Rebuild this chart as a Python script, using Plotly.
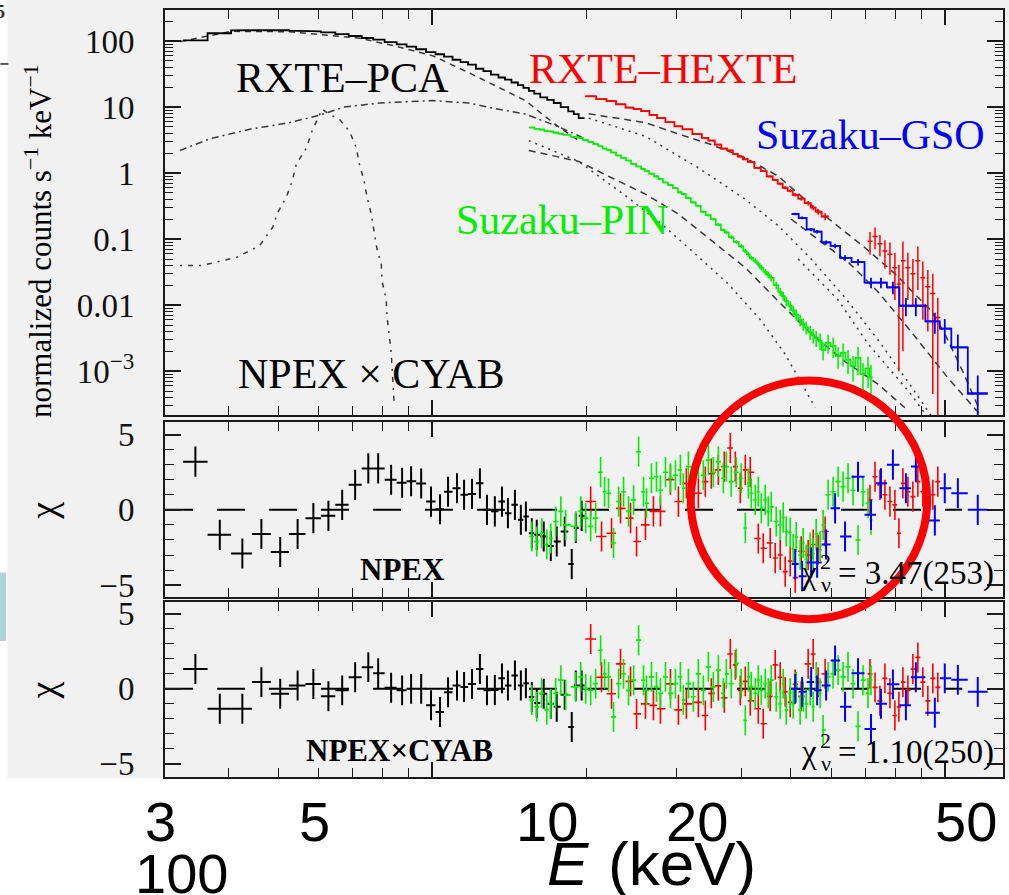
import numpy as np
import plotly.graph_objects as go

# ======================= DATA =======================
# RXTE-PCA (black)
pca_E = [3.45, 3.85, 4.26, 4.64, 5.05, 5.46, 5.86, 6.27, 6.67, 7.07, 7.50, 7.84, 8.31,
         8.73, 9.09, 9.51, 9.94, 10.35, 10.73, 11.17, 11.53, 11.95, 12.38, 12.78, 13.24,
         13.67, 14.04, 14.49, 14.88, 15.22, 15.63, 15.98, 16.49, 17.02, 17.48, 18.12,
         18.70, 19.04, 19.55]
pca_flux = [102, 131, 145, 147, 146, 143, 140, 135, 127, 119, 111, 105, 96, 89, 82, 75,
            68, 63, 58, 52, 48, 44, 38, 35, 31, 28, 26, 23.5, 21.5, 19.5, 17.5, 16, 14,
            12.8, 11.5, 10, 8.6, 7.8, 6.8]
pca_chi_npex = [3.2, -1.66, -2.9, -1.6, -2.8, -1.6, -0.55, -0.4, 0.33, 1.66,
                2.75, 2.75, 2.0, 1.8, 1.9, 1.75, 0.55, 0.04, 1.2, 1.43,
                1.0, 1.06, 1.76, 0.0, -0.1, 0.55, -0.22, 0.33, -0.66, -0.44,
                -1.55, -1.66, -1.77, -2.4, -2.1, -1.44, -3.6, -1.2, -0.4]
pca_chi_cyab = [1.33, -1.33, -1.33, 0.45, -0.33, 0.22, 0.33, -0.5, -0.1, 0.78,
                1.45, 1.05, 0.07, -0.1, 0.0, 0.0, -1.1, -1.55, -0.22, 0.22,
                0.13, 0.33, 1.33, -0.1, -0.07, 0.7, 0.22, 0.9, 0.22, 0.38,
                -0.55, -0.95, -0.33, -1.0, -1.2, -0.4, -2.55, 0.22, 0.22]

# RXTE-HEXTE (red), two energy segments
hexte1_E = [20.36, 21.38, 22.36, 23.28, 24.35, 25.02, 26.04, 26.99, 27.85, 29.13,
            30.19, 31.29, 33.02, 34.07, 35.00, 36.12, 37.10, 38.12, 38.98, 39.86,
            40.77, 41.69, 43.22, 44.19, 45.60, 46.63, 47.69, 48.77, 49.88, 51.01,
            52.40, 54.07, 55.30, 56.54, 58.35]
hexte1_flux = [14.5, 13.2, 12.3, 11.0, 9.8, 9.3, 8.7, 7.6, 6.8, 5.9,
               5.1, 4.6, 3.9, 3.4, 3.1, 2.7, 2.35, 2.2, 1.95, 1.78,
               1.62, 1.48, 1.2, 1.07, 0.89, 0.79, 0.69, 0.6, 0.54, 0.47,
               0.41, 0.35, 0.30, 0.26, 0.22]
hexte1_relerr = [0.01, 0.01, 0.01, 0.01, 0.01, 0.01, 0.01, 0.01, 0.012, 0.012,
                 0.012, 0.014, 0.014, 0.015, 0.016, 0.018, 0.02, 0.02, 0.022, 0.024,
                 0.025, 0.027, 0.03, 0.032, 0.035, 0.04, 0.045, 0.05, 0.055, 0.06,
                 0.07, 0.08, 0.09, 0.1, 0.12]
hexte1_chi_npex = [0.55, -1.77, -1.55, 0.1, -0.55, -2.1, -1.0, -0.1, -0.1, 2.0,
                   0.55, 1.76, 1.1, 1.87, 2.4, 2.65, 2.87, 4.1, 2.87, 1.43,
                   2.65, 2.5, -1.9, -2.55, -2.2, -3.2, -3.0, -4.1, -3.4, -4.5,
                   -2.75, -3.0, -2.3, -2.65, -1.44]
hexte1_chi_cyab = [3.33, 0.78, -0.33, 1.67, 0.5, -1.67, -1.0, -1.1, -1.33, 0.33,
                   -1.4, -1.0, -0.9, -1.78, -0.3, 0.2, -0.6, 2.33, 1.6, -0.1,
                   0.5, -0.8, -1.33, -2.33, -0.5, 1.6, 0.78, -0.2, -0.9, 0.3,
                   -0.5, 1.67, 2.33, 0.45, 1.0]
hexte2_E = [71.38, 73.0, 74.63, 76.32, 78.06, 79.82, 81.27, 82.74, 84.62, 86.53,
            88.49, 90.49, 92.54, 94.64, 96.78]
hexte2_flux = [0.093, 0.11, 0.085, 0.066, 0.059, 0.037, 0.021, 0.047, 0.037, 0.030,
               0.047, 0.026, 0.019, 0.015, 0.0065]
hexte2_err = [0.035, 0.04, 0.03, 0.03, 0.03, 0.025, 0.02, 0.045, 0.025, 0.02,
              0.03, 0.02, 0.015, 0.015, 0.0065]
hexte2_chi_npex = [0.66, 2.2, 1.66, 1.0, 0.55, 0.33, -1.55, 1.76, 1.2, 0.88,
                   1.87, 1.2, 0.33, 1.0, 1.87]
hexte2_chi_cyab = [1.0, 0.1, -0.8, 0.7, -0.3, -1.78, -1.2, 0.45, -0.1, 1.33,
                   2.1, 0.45, -0.8, 0.7, 0.1]

# Suzaku-PIN (green)
pin_E = [15.63, 15.98, 16.34, 16.72, 17.02, 17.40, 17.80, 18.20, 19.04, 19.47,
         19.91, 20.36, 20.82, 21.29, 21.67, 22.06, 22.56, 23.08, 23.60, 24.13,
         24.69, 25.25, 25.81, 26.16, 26.75, 27.36, 27.85, 28.49, 29.13, 29.79,
         30.46, 30.87, 31.58, 32.29, 33.02, 33.77, 34.54, 35.32, 36.12, 36.94,
         37.44, 38.28, 39.15, 40.04, 40.77, 41.33, 41.88, 42.64, 43.22, 43.80,
         44.59, 45.19, 45.80, 46.84, 47.69, 48.34, 48.99, 49.88, 50.55, 51.24,
         52.16, 52.87, 53.58, 54.56, 55.30, 56.05, 57.05, 57.83, 59.13, 60.47,
         61.85, 63.24, 64.67, 66.14, 67.64, 69.17, 70.74, 71.70]
pin_flux = [4.9, 4.7, 4.55, 4.35, 4.25, 4.1, 3.95, 3.8, 3.55, 3.4,
            3.15, 2.95, 2.75, 2.55, 2.35, 2.25, 2.05, 1.85, 1.7, 1.55,
            1.38, 1.26, 1.15, 1.07, 0.98, 0.89, 0.81, 0.72, 0.66, 0.59,
            0.51, 0.48, 0.42, 0.36, 0.32, 0.26, 0.23, 0.20, 0.166, 0.138,
            0.126, 0.107, 0.091, 0.078, 0.066, 0.059, 0.052, 0.047, 0.042, 0.037,
            0.032, 0.029, 0.026, 0.020, 0.016, 0.0138, 0.0115, 0.0098, 0.0083, 0.0072,
            0.006, 0.0052, 0.0046, 0.0039, 0.0035, 0.0032, 0.0029, 0.0021, 0.0027, 0.0024,
            0.0017, 0.0019, 0.0015, 0.0012, 0.0016, 0.0009, 0.0011, 0.0008]
pin_relerr = [0.02, 0.02, 0.02, 0.02, 0.02, 0.02, 0.02, 0.02, 0.02, 0.02,
              0.02, 0.02, 0.02, 0.02, 0.02, 0.02, 0.02, 0.02, 0.02, 0.02,
              0.02, 0.02, 0.03, 0.03, 0.03, 0.03, 0.03, 0.03, 0.03, 0.03,
              0.03, 0.04, 0.04, 0.04, 0.04, 0.04, 0.05, 0.05, 0.05, 0.05,
              0.06, 0.06, 0.06, 0.07, 0.07, 0.08, 0.08, 0.09, 0.09, 0.10,
              0.10, 0.11, 0.12, 0.13, 0.14, 0.15, 0.16, 0.17, 0.18, 0.19,
              0.20, 0.21, 0.22, 0.24, 0.25, 0.27, 0.28, 0.30, 0.32, 0.34,
              0.36, 0.38, 0.40, 0.42, 0.45, 0.48, 0.50, 0.55]
pin_chi_npex = [-1.77, -2.1, -1.55, -2.3, -1.9, -0.77, -0.1, -1.0, -1.1, -0.1,
                -0.55, -1.1, -0.55, 2.5, 1.2, 1.1, -2.2, 0.55, 1.2, -0.1,
                0.66, 3.86, 1.2, 0.44, 2.1, 2.2, 1.3, 2.5, 2.1, 2.3,
                2.65, 1.43, 2.87, 1.76, 3.1, 2.3, 3.3, 2.5, 3.2, 2.1,
                2.87, 1.87, 2.5, 2.1, -1.2, 1.76, 1.1, 0.66, 1.2, 0.1,
                0.66, -0.1, 0.2, -0.77, -1.0, -0.5, -1.44, -1.5, -2.6, -1.8,
                -3.0, -2.2, -3.3, -2.5, -2.9, -1.6, -2.4, -1.0, 1.0, 1.2,
                1.87, 1.54, 2.1, 1.3, -2.0, 1.2, 0.44, -0.66]
pin_chi_cyab = [-0.75, -1.2, -0.3, -1.4, -1.0, -0.3, 0.58, -0.42, 0.13, 0.8,
                0.0, -0.1, 0.35, 2.58, 1.0, 0.8, -1.87, 0.35, 1.0, -0.1,
                0.58, 3.25, 0.58, -0.1, 0.8, 0.13, -0.3, 0.8, -0.3, 0.35,
                0.8, -0.75, 0.35, -0.53, 1.0, -0.1, 1.47, 0.13, 1.25, -0.3,
                1.0, 0.35, 1.7, 0.35, -2.1, 0.8, 0.13, -0.3, 0.58, -0.1,
                0.35, -0.3, 0.58, -0.53, -1.0, 0.35, -1.4, -0.3, -1.0, 0.13,
                -1.4, -0.53, -1.0, -0.1, -1.2, 0.8, -0.3, -2.75, 0.8, 1.0,
                1.25, 0.8, 1.47, 0.35, -2.5, 0.58, -0.3, 0.58]

# Suzaku-GSO (blue)
gso_E = [51.01, 52.63, 54.80, 56.29, 58.61, 61.02, 63.81, 67.64, 71.70, 74.97,
         79.11, 83.86, 87.70, 95.50, 99.86, 105.9, 115.8]
gso_flux = [0.24, 0.21, 0.14, 0.13, 0.089, 0.079, 0.052, 0.045, 0.022, 0.022,
            0.0186, 0.0098, 0.0098, 0.0057, 0.0044, 0.0023, 0.00046]
gso_err = [0.01, 0.01, 0.008, 0.008, 0.006, 0.006, 0.005, 0.005, 0.004, 0.004,
           0.004, 0.003, 0.003, 0.002, 0.0018, 0.0013, 0.0004]
gso_chi_npex = [-3.6, -4.4, -3.5, -3.5, -2.3, 0.1, -1.77, 2.2, -0.33, 1.76,
                3.0, 1.43, 2.87, -0.7, 1.43, 1.1, 0.0]
gso_chi_cyab = [0.0, -0.2, 0.45, -0.1, 0.23, 1.9, -1.2, 1.05, -2.67, -1.0,
                0.3, -1.1, 0.78, -1.6, 0.7, 0.6, -0.2]

# model components (black dashed / dotted curves)
pca_neg_E = [3.22, 4.06, 5.26, 7.20, 8.35, 10.0, 11.79, 13.91, 15.22, 16.34, 17.64, 19.29]
pca_neg_F = [98, 140, 138, 110, 86, 60, 33, 17.6, 12.4, 7.9, 5.0, 3.1]
pca_pos_E = [3.22, 3.68, 4.40, 5.26, 6.02, 6.73, 7.88, 10.0, 11.79, 13.07, 15.22, 17.64, 19.55]
pca_pos_F = [2.2, 3.3, 4.6, 5.8, 7.5, 10, 11.5, 12.5, 11.5, 9.7, 7.8, 5.0, 3.5]
pca_bump_E = [3.22, 3.56, 4.15, 4.60, 4.88, 4.99, 5.19, 5.33, 5.43, 5.68, 5.83, 6.10, 6.30,
              6.58, 6.89, 7.11, 7.20, 7.36, 7.46, 7.60, 7.80, 7.95, 7.98, 8.13, 8.16,
              8.24, 8.31, 8.42]
pca_bump_F = [0.04, 0.04, 0.053, 0.079, 0.15, 0.25, 0.43, 0.76, 1.37, 2.4, 4.4, 9.3, 7.7,
              6.6, 4.3, 2.4, 1.4, 0.76, 0.43, 0.24, 0.07, 0.042, 0.023, 0.012, 0.0065,
              0.0037, 0.002, 0.00035]
hexte_pos_E = [20.18, 26.04, 30.19, 35.00, 40.77, 47.26, 54.80, 63.81, 69.80, 79.82,
               85.76, 93.80, 99.86, 108.2, 115.8]
hexte_pos_F = [7.9, 5.8, 3.9, 2.7, 1.7, 0.9, 0.33, 0.13, 0.074, 0.03, 0.017, 0.0083,
               0.0037, 0.001, 0.0003]
hexte_neg_E = [20.18, 26.04, 33.02, 40.77, 47.26, 54.80, 63.81, 73.96, 85.76, 96.78]
hexte_neg_F = [6.8, 3.6, 1.2, 0.4, 0.16, 0.05, 0.013, 0.003, 0.0006, 0.00015]
pin_pos_E = [15.42, 19.29, 22.36, 26.04, 30.19, 35.00, 40.77, 47.26, 54.80, 63.81, 73.96, 83.49]
pin_pos_F = [2.2, 1.5, 0.85, 0.48, 0.24, 0.095, 0.037, 0.0115, 0.0037, 0.0014, 0.00064, 0.00028]
pin_neg_E = [15.42, 19.29, 24.13, 27.99, 32.54, 37.77, 43.80, 48.77, 53.11, 55.79]
pin_neg_F = [3.1, 1.5, 0.42, 0.17, 0.06, 0.021, 0.0058, 0.0018, 0.00056, 0.00028]
gso_pos_E = [50.1, 64.67, 73.96, 85.76, 101.2, 118.4]
gso_pos_F = [0.2, 0.045, 0.016, 0.004, 0.0008, 0.0002]
gso_neg_E = [51.7, 61.85, 70.74, 78.4, 85.76, 92.54]
gso_neg_F = [0.05, 0.012, 0.0026, 0.001, 0.00045, 0.0002]

# text
instrument_labels = ["RXTE–PCA", "RXTE–HEXTE", "Suzaku–GSO", "Suzaku–PIN"]
model_labels = ["NPEX × CYAB", "NPEX", "NPEX×CYAB"]
chi_values = ["= 3.47(253)", "= 1.10(250)"]
overlay_ticks = ["3", "5", "10", "20", "50"]
x_range_keV = [3.01, 129.7]

# ======================= helpers =======================
SERIF = "Liberation Serif, Times New Roman, serif"
SANS = "Liberation Sans, Arial, sans-serif"
BLACK, RED, GREEN, BLUE = "#000000", "#ff0000", "#00ee00", "#0000ff"
MODEL_C = "#3a3a3a"

W_FIG, H_FIG = 1009, 895
L, R, T, B = 165, 4, 9, 118
PW, PH = W_FIG - L - R, H_FIG - T - B


def pxx(x):
    return (x - L) / PW


def pxy(y):
    return (T + PH - y) / PH


def edges(E):
    lg = np.log10(np.asarray(E, float))
    n = len(lg)
    lo, hi = [], []
    for i in range(n):
        dl = lg[i] - lg[i - 1] if i > 0 else None
        dr = lg[i + 1] - lg[i] if i < n - 1 else None
        if dl is None:
            dl = dr
        if dr is None:
            dr = dl
        if max(dl, dr) > 2.5 * min(dl, dr):
            dl = dr = min(dl, dr)
        lo.append(10 ** (lg[i] - dl / 2))
        hi.append(10 ** (lg[i] + dr / 2))
    return np.array(lo), np.array(hi)


def step_xy(E, F):
    lo, hi = edges(E)
    xs, ys = [], []
    for a, b, f in zip(lo, hi, F):
        xs += [a, b]
        ys += [f, f]
    return xs, ys


fig = go.Figure()


def add_step(E, F, color, width):
    xs, ys = step_xy(E, F)
    fig.add_trace(go.Scatter(x=xs, y=ys, mode="lines", xaxis="x", yaxis="y",
                             line=dict(color=color, width=width), hoverinfo="skip"))


def add_data(E, F, err_up, err_dn, color, thick):
    E = np.asarray(E, float)
    lo, hi = edges(E)
    fig.add_trace(go.Scatter(
        x=E, y=F, mode="markers", xaxis="x", yaxis="y",
        marker=dict(size=1, color=color),
        error_x=dict(type="data", array=hi - E, arrayminus=E - lo, width=0,
                     thickness=thick, color=color),
        error_y=dict(type="data", array=err_up, arrayminus=err_dn, width=0,
                     thickness=thick, color=color),
        hoverinfo="skip"))


def add_model(E, F, dash):
    fig.add_trace(go.Scatter(x=E, y=F, mode="lines", xaxis="x", yaxis="y",
                             line=dict(color=MODEL_C, width=1.5, dash=dash),
                             hoverinfo="skip"))


def add_resid(E, chi, color, thick, xa, ya):
    E = np.asarray(E, float)
    lo, hi = edges(E)
    fig.add_trace(go.Scatter(
        x=E, y=chi, mode="markers", xaxis=xa, yaxis=ya,
        marker=dict(size=1, color=color),
        error_x=dict(type="data", array=hi - E, arrayminus=E - lo, width=0,
                     thickness=thick, color=color),
        error_y=dict(type="constant", value=1, width=0, thickness=thick, color=color),
        hoverinfo="skip"))


# ---------------- top panel ----------------
for E_, F_, d in [(pca_neg_E, pca_neg_F, "6px,5px"), (pca_pos_E, pca_pos_F, "7px,4px,2px,4px"),
                  (pca_bump_E, pca_bump_F, "2px,6px,5px,6px"),
                  (hexte_pos_E, hexte_pos_F, "7px,5px"), (hexte_neg_E, hexte_neg_F, "2px,5px"),
                  (pin_pos_E, pin_pos_F, "7px,5px"), (pin_neg_E, pin_neg_F, "2px,5px"),
                  (gso_pos_E, gso_pos_F, "7px,5px"), (gso_neg_E, gso_neg_F, "2px,5px")]:
    add_model(E_, F_, d)

add_step(pca_E, pca_flux, BLACK, 1.8)
add_step(hexte1_E, hexte1_flux, RED, 1.8)
h1 = np.asarray(hexte1_flux) * np.asarray(hexte1_relerr)
add_data(hexte1_E, hexte1_flux, h1, h1, RED, 1.5)
h2 = np.asarray(hexte2_err, float)
add_data(hexte2_E, hexte2_flux, h2, np.minimum(h2, 0.97 * np.asarray(hexte2_flux)), RED, 1.5)
add_step(pin_E, pin_flux, GREEN, 1.6)
p1 = np.asarray(pin_flux) * np.asarray(pin_relerr)
add_data(pin_E, pin_flux, p1, np.minimum(p1, 0.97 * np.asarray(pin_flux)), GREEN, 1.5)
add_step(gso_E, gso_flux, BLUE, 1.8)
g1 = np.asarray(gso_err, float)
add_data(gso_E, gso_flux, g1, np.minimum(g1, 0.97 * np.asarray(gso_flux)), BLUE, 1.8)

# ---------------- residual panels ----------------
for xa, ya, sets in [
    ("x2", "y2", [(pca_E, pca_chi_npex, BLACK, 2.0), (hexte1_E, hexte1_chi_npex, RED, 1.6),
                  (hexte2_E, hexte2_chi_npex, RED, 1.6), (pin_E, pin_chi_npex, GREEN, 1.6),
                  (gso_E, gso_chi_npex, BLUE, 2.0)]),
    ("x3", "y3", [(pca_E, pca_chi_cyab, BLACK, 2.0), (hexte1_E, hexte1_chi_cyab, RED, 1.6),
                  (hexte2_E, hexte2_chi_cyab, RED, 1.6), (pin_E, pin_chi_cyab, GREEN, 1.6),
                  (gso_E, gso_chi_cyab, BLUE, 2.0)])]:
    fig.add_trace(go.Scatter(x=[x_range_keV[0], 108], y=[0, 0], mode="lines", xaxis=xa, yaxis=ya,
                             line=dict(color=BLACK, width=2, dash="28px,24px"), hoverinfo="skip"))
    for E_, c_, col, th in sets:
        add_resid(E_, c_, col, th, xa, ya)

# ---------------- axes ----------------
xr = [np.log10(x_range_keV[0]), np.log10(x_range_keV[1])]
minor_x = [4, 5, 6, 7, 8, 9, 20, 30, 40, 50, 60, 70, 80, 90]
frame = dict(showline=True, linecolor="#1a1a1a", linewidth=2, mirror="allticks",
             ticks="inside", tickcolor="#1a1a1a", tickwidth=1.6, showgrid=False,
             zeroline=False)


def xax(anchor):
    return dict(frame, type="log", range=xr, tickvals=[10, 100], ticklen=15,
                showticklabels=False, anchor=anchor,
                minor=dict(tickvals=minor_x, ticklen=9, ticks="inside",
                           tickcolor="#1a1a1a", tickwidth=1.4, showgrid=False))


d_top = [pxy(415), 1.0]
d_mid = [pxy(597), pxy(422)]
d_bot = [0.0, pxy(602)]

minor_log = [m * 10.0 ** k for k in range(-4, 3) for m in range(2, 10)]
tickfont = dict(family=SERIF, size=33, color="#111")

fig.update_layout(
    width=W_FIG, height=H_FIG,
    margin=dict(l=L, r=R, t=T, b=B, pad=0),
    paper_bgcolor="white", plot_bgcolor="#f1f1f1",
    showlegend=False,
    xaxis=xax("y"),
    xaxis2=dict(xax("y2"), matches="x"),
    xaxis3=dict(xax("y3"), matches="x"),
    yaxis=dict(frame, type="log", domain=d_top, range=[-3.670, 2.469],
               tickvals=[1e-3, 1e-2, 0.1, 1, 10, 100],
               ticktext=["10<sup>−3</sup>", "0.01", "0.1", "1", "10", "100"],
               ticklen=16, tickfont=tickfont, ticklabelstandoff=22, anchor="x",
               minor=dict(tickvals=minor_log, ticklen=8, ticks="inside",
                          tickcolor="#1a1a1a", tickwidth=1.2, showgrid=False)),
    yaxis2=dict(frame, domain=d_mid, range=[-5.8, 5.8], tickvals=[-5, 0, 5],
                ticktext=["−5", "0", "5"], ticklen=16, tickfont=tickfont,
                ticklabelstandoff=22, anchor="x2",
                minor=dict(tickvals=list(range(-5, 6)), ticklen=9, ticks="inside",
                           tickcolor="#1a1a1a", tickwidth=1.4, showgrid=False)),
    yaxis3=dict(frame, domain=d_bot, range=[-5.88, 5.78], tickvals=[-5, 0, 5],
                ticktext=["−5", "0", "5"], ticklen=16, tickfont=tickfont,
                ticklabelstandoff=22, anchor="x3",
                minor=dict(tickvals=list(range(-5, 6)), ticklen=9, ticks="inside",
                           tickcolor="#1a1a1a", tickwidth=1.4, showgrid=False)),
)

# background of the pasted figure + slide leftovers
fig.add_shape(type="rect", xref="paper", yref="paper", x0=pxx(7), x1=pxx(1012),
              y0=pxy(778), y1=pxy(-2), fillcolor="#f1f1f1", line=dict(width=0), layer="below")
fig.add_shape(type="rect", xref="paper", yref="paper", x0=pxx(-2), x1=pxx(5),
              y0=pxy(640), y1=pxy(573), fillcolor="#a9d6da",
              line=dict(color="#c8c8c8", width=1.5), layer="above")
fig.add_shape(type="line", xref="paper", yref="paper", x0=pxx(0), x1=pxx(8),
              y0=pxy(63), y1=pxy(63), line=dict(color="#555", width=2))
# red highlight circle
fig.add_shape(type="circle", xref="paper", yref="paper", x0=pxx(692), x1=pxx(929),
              y0=pxy(619), y1=pxy(380), line=dict(color="#ff0000", width=8), layer="above")


def ann(text, x, y, size, color="black", family=SERIF, xanchor="center",
        yanchor="middle", angle=0):
    fig.add_annotation(text=text, x=pxx(x), y=pxy(y), xref="paper", yref="paper",
                       showarrow=False, xanchor=xanchor, yanchor=yanchor, textangle=angle,
                       font=dict(family=family, size=size, color=color))


ann(instrument_labels[0], 343, 77, 42)
ann(model_labels[0], 371, 373, 42)
ann(instrument_labels[1], 664, 68, 42, RED)
ann(instrument_labels[2], 872, 134, 42, BLUE)
ann(instrument_labels[3], 563, 219, 42, GREEN)
ann("<b>" + model_labels[1] + "</b>", 403, 569, 31)
ann("<b>" + model_labels[2] + "</b>", 400, 750, 31)

# reduced chi-square labels
for yc, txt in [(573, chi_values[0]), (752, chi_values[1])]:
    ann("χ", 811, yc, 33)
    ann("2", 827, yc - 12, 22)
    ann("ν", 828, yc + 11, 22)
    ann(txt, 838, yc, 33, xanchor="left")

# axis titles
ann("normalized counts s<sup>−1</sup> keV<sup>−1</sup>", 38, 240, 31, angle=-90)
ann("χ", 43, 510, 38, angle=-90)
ann("χ", 43, 690, 38, angle=-90)
ann("<b>5</b>", 7, 11, 18, "#333", xanchor="right")

# overlay tick labels and axis label below the figure
for t, xc in zip(overlay_ticks, [160, 315, 548, 698, 968]):
    ann(t, xc, 822, 56, family=SANS)
ann("100", 182, 874, 56, family=SANS)
ann("<i>E</i>", 569, 864, 62, family=SANS)
ann("(keV)", 683, 864, 62, family=SANS)

fig.write_html("out.html", config={"displayModeBar": False},
               post_script="document.body.style.margin='0';")
